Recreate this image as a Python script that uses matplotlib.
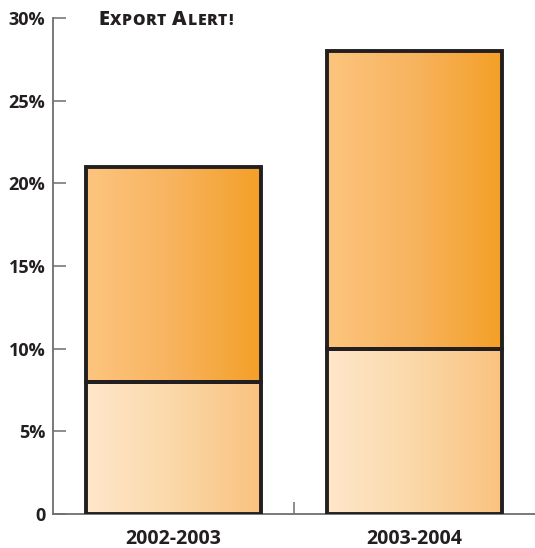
import numpy as np
import matplotlib
matplotlib.use("Agg")
import matplotlib.pyplot as plt
from matplotlib.colors import LinearSegmentedColormap

# ---- data ----
categories = ["2002-2003", "2003-2004"]
bottom_values = [8, 10]        # lower segment (%)
top_values = [13, 18]          # upper segment (%), totals 21 and 28
yticks = [0, 5, 10, 15, 20, 25, 30]
ytick_labels = ["0", "5%", "10%", "15%", "20%", "25%", "30%"]
title_text = "Export Alert!"

W, H = 535, 548
fig = plt.figure(figsize=(W / 100, H / 100), dpi=100)
ax = fig.add_axes([53 / W, 34 / H, (W - 53) / W, (514 - 18) / H])

dark = "#231f20"
axis_col = "#6d6e71"

cmap_bottom = LinearSegmentedColormap.from_list("b", ["#ffe7cb", "#fbd8a8", "#fac27f"])
cmap_top = LinearSegmentedColormap.from_list("t", ["#fcc57e", "#f8b35e", "#f4a027"])

x = np.arange(len(categories))
width = 0.725
bars_b = ax.bar(x, bottom_values, width=width, facecolor="none",
                edgecolor=dark, linewidth=2.8, zorder=3)
bars_t = ax.bar(x, top_values, width=width, bottom=bottom_values,
                facecolor="none", edgecolor=dark, linewidth=2.8, zorder=3)

grad = np.linspace(0, 1, 256).reshape(1, -1)
for bars, cm in ((bars_b, cmap_bottom), (bars_t, cmap_top)):
    for p in bars:
        x0, y0 = p.get_x(), p.get_y()
        ax.imshow(grad, cmap=cm, aspect="auto", zorder=2,
                  extent=(x0, x0 + p.get_width(), y0, y0 + p.get_height()),
                  interpolation="bicubic")

ax.set_xlim(-0.5, 1.5)
ax.set_ylim(0, 30)

ax.spines["top"].set_visible(False)
ax.spines["right"].set_visible(False)
for s in ("left", "bottom"):
    ax.spines[s].set_color(axis_col)
    ax.spines[s].set_linewidth(1.3)

ax.set_yticks(yticks)
ax.set_yticklabels(ytick_labels)
ax.tick_params(axis="y", direction="in", length=9, width=1.1, color=axis_col,
               pad=5.5, labelsize=13, labelcolor=dark)
ax.set_xticks([0.5])
ax.set_xticklabels([""])
ax.tick_params(axis="x", direction="in", length=9, width=1.1, color=axis_col)
for lab in ax.get_yticklabels():
    lab.set_fontfamily("Open Sans")
    lab.set_fontweight("bold")

for xi, c in zip(x, categories):
    ax.text(xi, -0.9, c, ha="center", va="top", fontsize=14, fontweight="bold",
            family="Open Sans", color=dark)

# small-caps title (letter-spaced)
renderer = fig.canvas.get_renderer()
xpix, ypix = 98, H - 25
for word_i, word in enumerate(title_text.split(" ")):
    if word_i > 0:
        xpix += 6
    for ci, ch in enumerate(word):
        size = 14.5 if ci == 0 else 11.3
        t = fig.text(xpix / W, ypix / H, ch.upper(), fontsize=size,
                     fontweight="heavy", family="Open Sans", color=dark,
                     ha="left", va="baseline")
        xpix += t.get_window_extent(renderer).width + 0.6

fig.savefig("out.png", dpi=100)
